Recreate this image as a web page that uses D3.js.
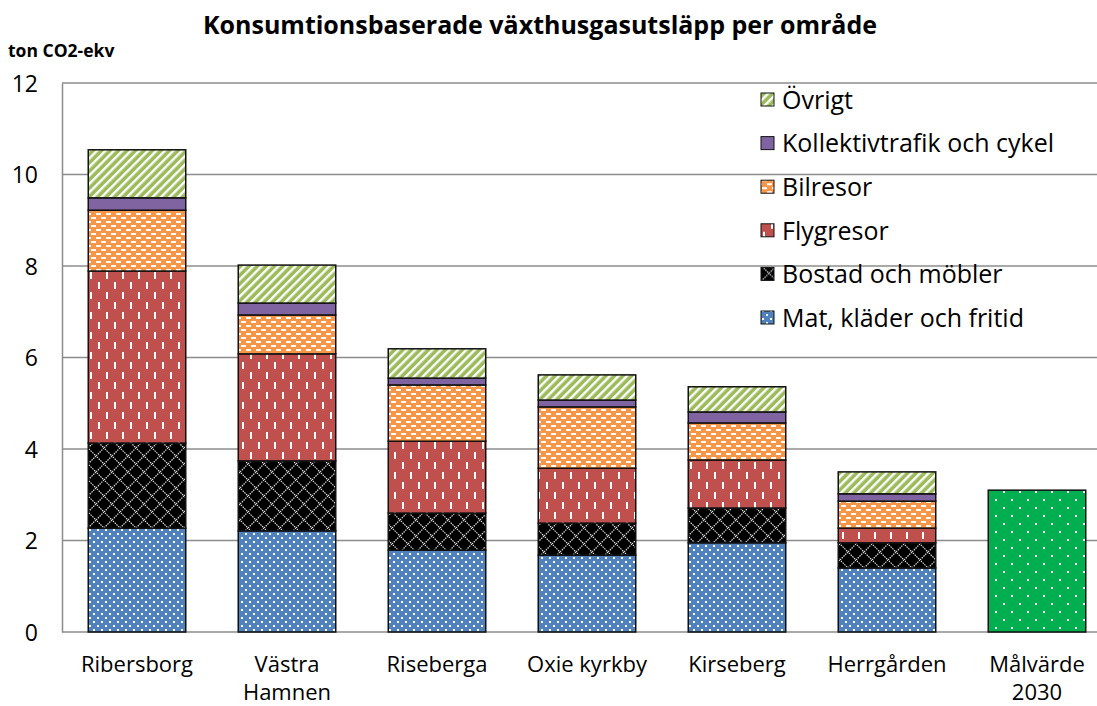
<!DOCTYPE html>
<html>
<head>
<meta charset="utf-8">
<script src="https://cdn.jsdelivr.net/npm/d3@7"></script>
<style>
  body { margin: 0; background: #fff; }
  text { font-family: "Open Sans", "Noto Sans", sans-serif; fill: #000; }
</style>
</head>
<body>
<script>
/*** DATA ***/
let areas = ["Ribersborg", "Västra Hamnen", "Riseberga", "Oxie kyrkby", "Kirseberg", "Herrgården", "Målvärde 2030"];
let areaLines = [["Ribersborg"], ["Västra", "Hamnen"], ["Riseberga"], ["Oxie kyrkby"], ["Kirseberg"], ["Herrgården"], ["Målvärde", "2030"]];
let categories = ["Mat, kläder och fritid", "Bostad och möbler", "Flygresor", "Bilresor", "Kollektivtrafik och cykel", "Övrigt"];

let mat       = [2.27, 2.21, 1.79, 1.68, 1.95, 1.40];
let bostad    = [1.86, 1.53, 0.81, 0.70, 0.76, 0.55];
let flyg      = [3.76, 2.34, 1.57, 1.20, 1.05, 0.32];
let bil       = [1.33, 0.85, 1.23, 1.34, 0.81, 0.59];
let kollektiv = [0.27, 0.26, 0.15, 0.15, 0.24, 0.16];
let ovrigt    = [1.05, 0.83, 0.64, 0.55, 0.55, 0.48];
let target    = 3.10;
let yTicks    = [0, 2, 4, 6, 8, 10, 12];

/*** GRAPH ***/
let W = 1097, H = 706;
let plot = { left: 62, right: 1112, top: 83, bottom: 632 };

let svg = d3.select("body").append("svg")
  .attr("width", W)
  .attr("height", H);

/* mönster */
let defs = svg.append("defs");

// Övrigt: diagonala ränder
let p = defs.append("pattern").attr("id", "p-ovr").attr("patternUnits", "userSpaceOnUse")
  .attr("width", 6).attr("height", 6).attr("patternTransform", "rotate(45)");
p.append("rect").attr("width", 6).attr("height", 6).attr("fill", "#9BBB59");
p.append("rect").attr("x", 0).attr("width", 2.4).attr("height", 6).attr("fill", "#fff");

// Bilresor: tegel-streck
p = defs.append("pattern").attr("id", "p-bil").attr("patternUnits", "userSpaceOnUse")
  .attr("width", 10).attr("height", 8);
p.append("rect").attr("width", 10).attr("height", 8).attr("fill", "#F79646");
p.append("rect").attr("x", 1).attr("y", 1).attr("width", 5).attr("height", 2).attr("fill", "#fff");
p.append("rect").attr("x", 6).attr("y", 5).attr("width", 5).attr("height", 2).attr("fill", "#fff");
p.append("rect").attr("x", -4).attr("y", 5).attr("width", 5).attr("height", 2).attr("fill", "#fff");

// Flygresor: vertikala streck
p = defs.append("pattern").attr("id", "p-flyg").attr("patternUnits", "userSpaceOnUse")
  .attr("width", 16).attr("height", 20);
p.append("rect").attr("width", 16).attr("height", 20).attr("fill", "#C0504D");
p.append("rect").attr("x", 2).attr("y", 2).attr("width", 2).attr("height", 7).attr("fill", "#fff");
p.append("rect").attr("x", 10).attr("y", 12).attr("width", 2).attr("height", 7).attr("fill", "#fff");

// Bostad: rutnät på svart
p = defs.append("pattern").attr("id", "p-bost").attr("patternUnits", "userSpaceOnUse")
  .attr("width", 16).attr("height", 16);
p.append("rect").attr("width", 16).attr("height", 16).attr("fill", "#000");
p.append("path").attr("d", "M0,8 L8,0 L16,8 L8,16 Z").attr("fill", "none")
  .attr("stroke", "#ddd").attr("stroke-width", 1.2).attr("stroke-dasharray", "1.5,1");

// Mat: prickar
p = defs.append("pattern").attr("id", "p-mat").attr("patternUnits", "userSpaceOnUse")
  .attr("width", 8).attr("height", 8);
p.append("rect").attr("width", 8).attr("height", 8).attr("fill", "#4F81BD");
p.append("rect").attr("x", 1).attr("y", 1).attr("width", 2).attr("height", 2).attr("fill", "#fff");
p.append("rect").attr("x", 5).attr("y", 5).attr("width", 2).attr("height", 2).attr("fill", "#fff");

// Målvärde: glesa prickar
p = defs.append("pattern").attr("id", "p-mal").attr("patternUnits", "userSpaceOnUse")
  .attr("width", 16).attr("height", 16);
p.append("rect").attr("width", 16).attr("height", 16).attr("fill", "#00B050");
p.append("rect").attr("x", 3).attr("y", 3).attr("width", 2).attr("height", 2).attr("fill", "#fff");
p.append("rect").attr("x", 11).attr("y", 11).attr("width", 2).attr("height", 2).attr("fill", "#fff");

let fills = ["url(#p-mat)", "url(#p-bost)", "url(#p-flyg)", "url(#p-bil)", "#8064A2", "url(#p-ovr)"];
let series = [mat, bostad, flyg, bil, kollektiv, ovrigt];

/* skalor */
let x = d3.scaleBand().domain(areas).range([plot.left, plot.right]).paddingInner(0.35).paddingOuter(0.175);
let y = d3.scaleLinear().domain([0, 12]).range([plot.bottom, plot.top]);

/* rutnät */
svg.append("g").selectAll("line")
  .data(yTicks)
  .enter().append("line")
  .attr("x1", plot.left).attr("x2", W)
  .attr("y1", d => y(d)).attr("y2", d => y(d))
  .attr("stroke", "#8c8c8c").attr("stroke-width", 1.5);

/* y-axel */
let yAxis = d3.axisLeft(y).tickValues(yTicks).tickSize(0).tickPadding(12);
let gy = svg.append("g")
  .attr("transform", "translate(" + plot.left + ",0)")
  .call(yAxis);
gy.select(".domain").attr("stroke", "#8c8c8c").attr("stroke-width", 1.5);
gy.selectAll("text").style("font-size", "23px").attr("dy", "0.35em").attr("x", -24);

/* staplar */
let stackData = areas.slice(0, 6).map((a, i) => {
  let o = { area: a };
  categories.forEach((c, j) => o[c] = series[j][i]);
  return o;
});
let stacked = d3.stack().keys(categories)(stackData);

svg.append("g").selectAll("g")
  .data(stacked)
  .enter().append("g")
  .attr("fill", (d, i) => fills[i])
  .selectAll("rect")
  .data(d => d)
  .enter().append("rect")
  .attr("x", d => x(d.data.area))
  .attr("width", x.bandwidth())
  .attr("y", d => y(d[1]))
  .attr("height", d => y(d[0]) - y(d[1]))
  .attr("stroke", "#111").attr("stroke-width", 1.5);

svg.append("rect")
  .attr("x", x(areas[6]))
  .attr("width", x.bandwidth())
  .attr("y", y(target))
  .attr("height", y(0) - y(target))
  .attr("fill", "url(#p-mal)")
  .attr("stroke", "#111").attr("stroke-width", 1.5);

/* kategorietiketter, en text per rad */
let labGroups = svg.append("g").selectAll("g")
  .data(areaLines)
  .enter().append("g")
  .attr("transform", (d, i) => "translate(" + (x(areas[i]) + x.bandwidth() / 2) + ",0)");
labGroups.selectAll("text")
  .data(d => d)
  .enter().append("text")
  .attr("text-anchor", "middle")
  .attr("x", 0)
  .attr("y", (d, i) => 672 + i * 28)
  .style("font-size", "22px")
  .text(d => d);

/* titel */
svg.append("text")
  .attr("x", 540).attr("y", 34)
  .attr("text-anchor", "middle")
  .style("font-size", "25px").style("font-weight", "bold")
  .text("Konsumtionsbaserade växthusgasutsläpp per område");

svg.append("text")
  .attr("x", 8).attr("y", 57)
  .style("font-size", "17.5px").style("font-weight", "bold")
  .text("ton CO2-ekv");

/* legend */
let legendOrder = d3.range(categories.length).reverse();
let legend = svg.append("g").selectAll("g")
  .data(legendOrder)
  .enter().append("g")
  .attr("transform", (d, i) => "translate(761," + (99 + i * 43.6) + ")");

legend.append("rect")
  .attr("x", 0).attr("y", -6)
  .attr("width", 13).attr("height", 13)
  .attr("fill", d => fills[d])
  .attr("stroke", "#111").attr("stroke-width", 1);

legend.append("text")
  .attr("x", 21).attr("y", 1)
  .attr("dy", "0.35em")
  .style("font-size", "25px")
  .text(d => categories[d]);
</script>
</body>
</html>
